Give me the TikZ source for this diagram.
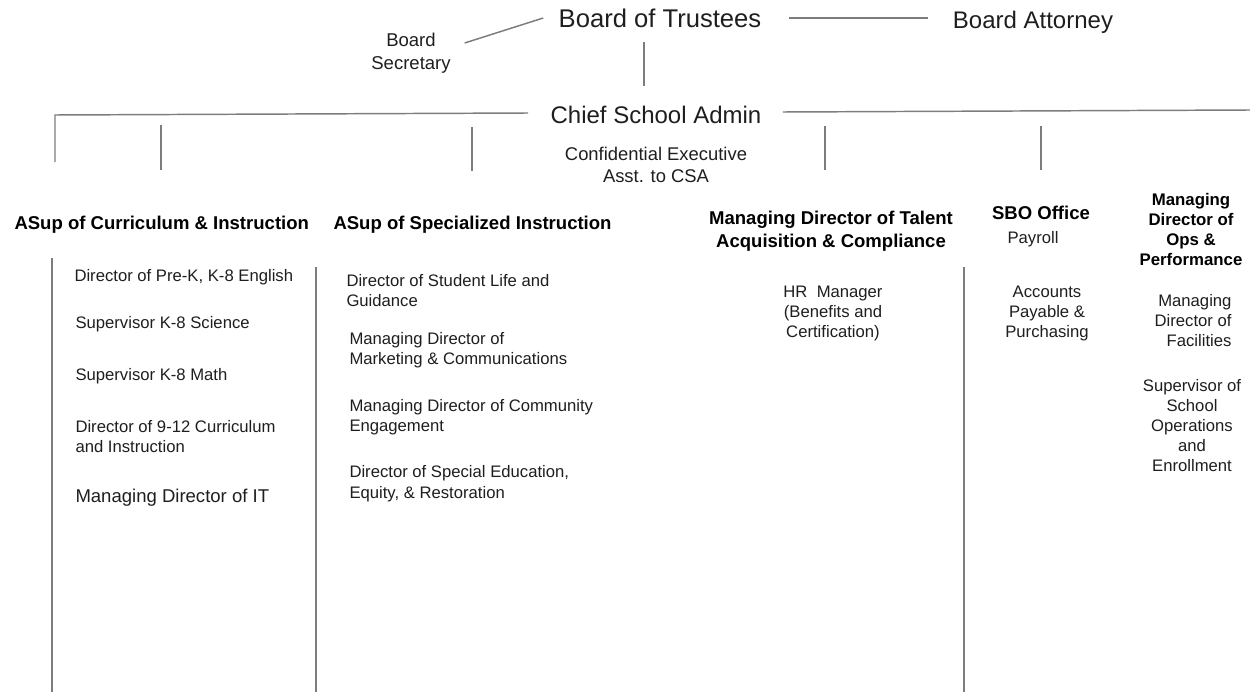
\documentclass[tikz,border=0pt]{standalone}
\usepackage{fontspec}
\setmainfont{Liberation Sans}
\definecolor{linegray}{RGB}{125,125,125}
\definecolor{inkgray}{RGB}{30,30,30}

\tikzset{every picture/.style={line width=0.75pt}}
\tikzset{
  orgline/.style={draw=linegray, line width=1.1pt},
  toptxt/.style={inner sep=0.75pt, text=inkgray, font=\fontsize{18}{21}\selectfont},
  subtxt/.style={inner sep=0.75pt, text=inkgray, align=center, font=\fontsize{13.8}{16.9}\selectfont},
  headtxt/.style={inner sep=0.75pt, text=black, align=center, font=\bfseries\fontsize{13.9}{17.3}\selectfont},
  itemtxt/.style={inner sep=0.75pt, text=inkgray, align=left, font=\fontsize{12.5}{15}\selectfont},
}

\begin{document}
\begin{tikzpicture}[x=0.75pt,y=0.75pt,yscale=-1,xscale=1]
\useasboundingbox (0,0) rectangle (1250,692);

% Text Node
\node[toptxt, font=\fontsize{19.2}{22}\selectfont] (trustees) at (660,18) {Board of Trustees};
% Text Node
\node[toptxt] (attorney) at (1033,22) {Board Attorney};
% Text Node
\node[subtxt, font=\fontsize{13.9}{17.3}\selectfont] (secretary) at (411,53.5) {Board\\Secretary};
% Text Node
\node[toptxt] (csa) at (656,115) {Chief School Admin};
% Text Node
\node[subtxt] (confasst) at (656,165) {Confidential Executive\\Asst. to CSA};

% Text Node
\node[headtxt, anchor=west] (headCI) at (13,224.5) {ASup of Curriculum \& Instruction};
% Text Node
\node[headtxt, anchor=west] (headSI) at (332,224.5) {ASup of Specialized Instruction};
% Text Node
\node[headtxt] (headTA) at (831,231.5) {Managing Director of Talent\\Acquisition \& Compliance};
% Text Node
\node[headtxt] (headSBO) at (1041,213) {SBO Office};
% Text Node
\node[headtxt, font=\bfseries\fontsize{12.6}{15}\selectfont] (headOps) at (1191,229) {Managing\\Director of\\Ops \&\\Performance};

% Text Node
\node[itemtxt, anchor=west] (itemCI1) at (73,277) {Director of Pre-K, K-8 English};
% Text Node
\node[itemtxt, anchor=west] (itemCI2) at (74,324) {Supervisor K-8 Science};
% Text Node
\node[itemtxt, anchor=west] (itemCI3) at (74,376) {Supervisor K-8 Math};
% Text Node
\node[itemtxt, anchor=west] (itemCI4) at (74,437) {Director of 9-12 Curriculum\\and Instruction};
% Text Node
\node[itemtxt, anchor=west, font=\fontsize{13.9}{16}\selectfont] (itemCI5) at (74,498) {Managing Director of IT};

% Text Node
\node[itemtxt, anchor=west] (itemSI1) at (345,291) {Director of Student Life and\\Guidance};
% Text Node
\node[itemtxt, anchor=west] (itemSI2) at (348,350) {Managing Director of\\Marketing \& Communications};
% Text Node
\node[itemtxt, anchor=west] (itemSI3) at (348,417) {Managing Director of Community\\Engagement};
% Text Node
\node[itemtxt, anchor=west, font=\fontsize{12.5}{15.6}\selectfont] (itemSI4) at (348,484) {Director of Special Education,\\Equity, \& Restoration};

% Text Node
\node[itemtxt, align=center] (itemTA1) at (833,313) {HR~~Manager\\(Benefits and\\Certification)};
% Text Node
\node[itemtxt] (itemSBO1) at (1033,239) {Payroll};
% Text Node
\node[itemtxt, align=center] (itemSBO2) at (1047,313) {Accounts\\Payable \&\\Purchasing};
% Text Node
\node[itemtxt, align=right, anchor=east] (itemOps1) at (1233,321) {Managing\\Director of\\Facilities};
% Text Node
\node[itemtxt, align=center] (itemOps2) at (1192,426) {Supervisor of\\School\\Operations\\and\\Enrollment};

% free ends of the stubs and rails
\coordinate (barLeft) at (55,115);
\coordinate (barRight) at (1250,110);
\coordinate (stubCI) at (161,125);
\coordinate (stubSI) at (472,127);
\coordinate (stubTA) at (825,126);
\coordinate (stubSBO) at (1041,126);
\coordinate (railCI) at (52,258);
\coordinate (railSI) at (316,267);
\coordinate (railTA) at (964,267);

%Straight Lines
\draw[orgline] ([shift={(12.5,-10.5)}]secretary.east) -- ([shift={(-14,0)}]trustees.west);
%Straight Lines
\draw[orgline] ([shift={(26,0)}]trustees.east) -- ([shift={(-23,-4)}]attorney.west);
%Straight Lines
\draw[orgline] ([shift={(-16,24)}]trustees.center) -- ++(0,44);
%Straight Lines
\draw[orgline] ([shift={(-21,-2)}]csa.west) -- (barLeft) -- ++(0,47);
%Straight Lines
\draw[orgline] ([shift={(20,-3)}]csa.east) -- (barRight);
%Straight Lines
\draw[orgline] (stubCI) -- ++(0,45);
\draw[orgline] (stubSI) -- ++(0,44);
\draw[orgline] (stubTA) -- ++(0,44);
\draw[orgline] (stubSBO) -- ++(0,44);
%Straight Lines
\draw[orgline] (railCI) -- ++(0,434);
\draw[orgline] (railSI) -- ++(0,425);
\draw[orgline] (railTA) -- ++(0,425);

\end{tikzpicture}
\end{document}
